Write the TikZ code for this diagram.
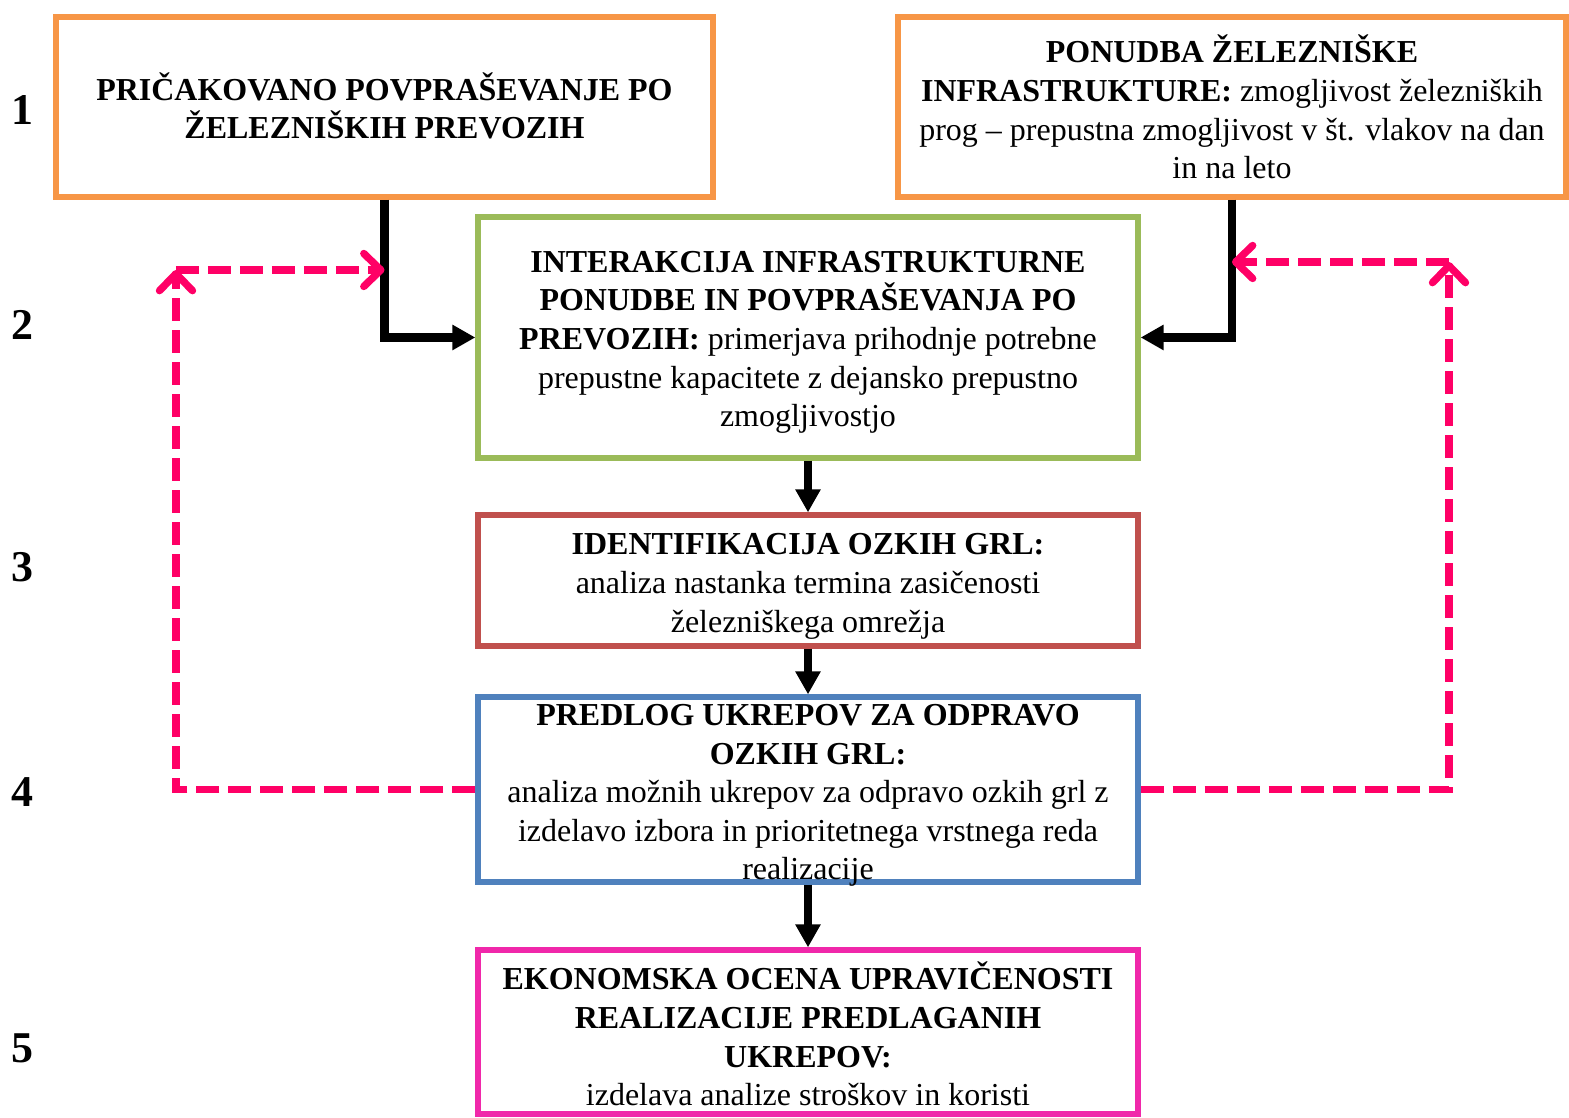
\documentclass[tikz,border=0pt]{standalone}
\usepackage{fontspec}
\setmainfont{Liberation Serif}
\usetikzlibrary{arrows.meta}

\definecolor{boxorange}{RGB}{247,150,70}
\definecolor{boxgreen}{RGB}{155,187,89}
\definecolor{boxred}{RGB}{192,80,77}
\definecolor{boxblue}{RGB}{79,129,189}
\definecolor{boxpink}{RGB}{240,40,170}
\definecolor{loopred}{RGB}{255,0,102}

% box text: height, extra top space (twice the shift down), width, text
\newcommand{\boxtext}[4]{\parbox[c][#1][c]{#3}{\vspace*{#2}\centering #4}}

\begin{document}
\begin{tikzpicture}[>=Stealth,
    stepbox/.style={draw,rectangle,line width=1.5pt,inner sep=0pt,
        font=\fontsize{9.1}{11}\selectfont},
    num/.style={font=\fontsize{12.5}{14}\selectfont\bfseries},
    flow/.style={line width=2.3pt,-{Triangle[length=0.23cm,width=0.24cm]}},
    back/.style={loopred,line width=2.1pt,dash pattern=on 0.23cm off 0.09cm,
        -{Straight Barb[round,length=0.17cm,width=0.33cm]}}]
\useasboundingbox (0,0) rectangle (15.69,-11.18);

% === Step numbers ===
\foreach \n/\y in {1/1.10, 2/3.25, 3/5.67, 4/7.92, 5/10.48} {
    \node[num] (n\n) at (0.22,-\y) {\n};
}

% === Top row: demand and supply ===
\node[stepbox,draw=boxorange] (demand) at (3.845,-1.07)
    {\boxtext{1.80cm}{-0.02cm}{6.57cm}{\textbf{PRIČAKOVANO POVPRAŠEVANJE PO}\\
     \textbf{ŽELEZNIŠKIH PREVOZIH}}};
\node[stepbox,draw=boxorange] (supply) at (12.32,-1.07)
    {\boxtext{1.80cm}{0cm}{6.68cm}{\textbf{PONUDBA ŽELEZNIŠKE}\\
     \textbf{INFRASTRUKTURE:} zmogljivost železniških\\
     prog – prepustna zmogljivost v št. vlakov na dan\\ in na leto}};

% === Middle column ===
\node[stepbox,draw=boxgreen] (inter) at (8.08,-3.375)
    {\boxtext{2.41cm}{0.10cm}{6.60cm}{\textbf{INTERAKCIJA INFRASTRUKTURNE}\\
     \textbf{PONUDBE IN POVPRAŠEVANJA PO}\\
     \textbf{PREVOZIH:} primerjava prihodnje potrebne\\
     prepustne kapacitete z dejansko prepustno\\ zmogljivostjo}};
\node[stepbox,draw=boxred] (ident) at (8.08,-5.805)
    {\boxtext{1.31cm}{0.12cm}{6.60cm}{\textbf{IDENTIFIKACIJA OZKIH GRL:}\\
     analiza nastanka termina zasičenosti\\ železniškega omrežja}};
\node[stepbox,draw=boxblue] (measures) at (8.08,-7.895)
    {\boxtext{1.85cm}{0.12cm}{6.60cm}{\textbf{PREDLOG UKREPOV ZA ODPRAVO}\\
     \textbf{OZKIH GRL:}\\
     analiza možnih ukrepov za odpravo ozkih grl z\\
     izdelavo izbora in prioritetnega vrstnega reda\\ realizacije}};
\node[stepbox,draw=boxpink] (econ) at (8.08,-10.32)
    {\boxtext{1.64cm}{0.04cm}{6.60cm}{\textbf{EKONOMSKA OCENA UPRAVIČENOSTI}\\
     \textbf{REALIZACIJE PREDLAGANIH}\\
     \textbf{UKREPOV:}\\ izdelava analize stroškov in koristi}};

% === Flow ===
\draw[flow] (demand.south) |- (inter.west);
\draw[flow] (supply.south) |- (inter.east);
\draw[flow] (inter) -- (ident);
\draw[flow] (ident) -- (measures);
\draw[flow] (measures) -- (econ);

% === Feedback loops ===
\coordinate (lcorner) at (1.76,-2.70);
\coordinate (lhit) at (demand.south |- lcorner);
\coordinate (rcorner) at (14.49,-2.62);
\coordinate (rhit) at (supply.south |- rcorner);

\draw[back] (measures.west) -| (lcorner);
\draw[back] (lcorner) -- (lhit);
\draw[back] (measures.east) -| (rcorner);
\draw[back] (rcorner) -- (rhit);
\end{tikzpicture}
\end{document}
